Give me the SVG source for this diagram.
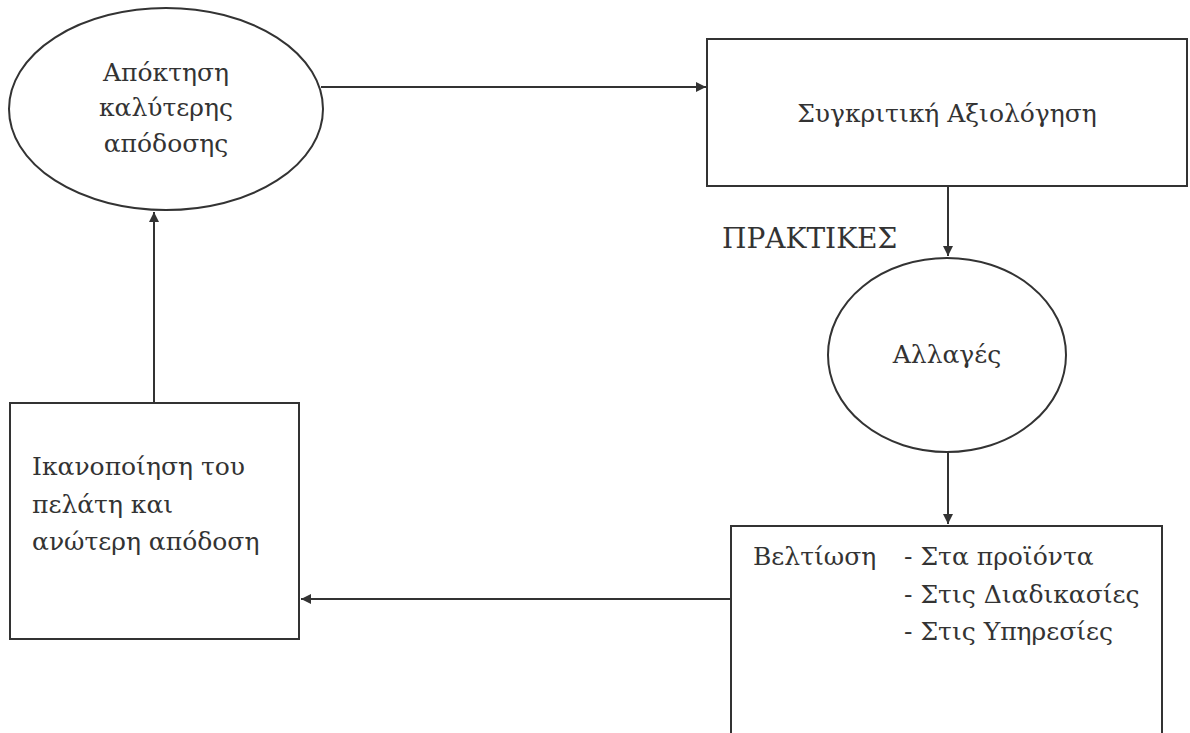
<svg xmlns="http://www.w3.org/2000/svg" width="1190" height="733" viewBox="0 0 1190 733">
<style>
.shape{fill:none;stroke:#333;stroke-width:2}
.line{fill:none;stroke:#333;stroke-width:2}
text{font-family:"DejaVu Serif",serif;font-size:25px;fill:#333}
.caps{font-size:28px}
</style>
<defs>
<marker id="ah" viewBox="0 0 10 10" refX="10" refY="5" markerWidth="5" markerHeight="5" markerUnits="strokeWidth" orient="auto">
<path d="M0,0 L10,5 L0,10 z" fill="#333"/>
</marker>
</defs>
<rect width="1190" height="733" fill="#fff"/>
<g id="connectors">
<line class="line" x1="321" y1="87" x2="706" y2="87" marker-end="url(#ah)"/>
<line class="line" x1="948" y1="186" x2="948" y2="256" marker-end="url(#ah)"/>
<line class="line" x1="948" y1="452" x2="948" y2="524" marker-end="url(#ah)"/>
<line class="line" x1="731" y1="599" x2="301" y2="599" marker-end="url(#ah)"/>
<line class="line" x1="154" y1="403" x2="154" y2="212" marker-end="url(#ah)"/>
</g>
<g id="node-apoktisi">
<ellipse class="shape" cx="166" cy="109" rx="157" ry="101"/>
<text x="166" y="81" text-anchor="middle">Απόκτηση</text>
<text x="166" y="116" text-anchor="middle">καλύτερης</text>
<text x="166" y="152" text-anchor="middle">απόδοσης</text>
</g>
<g id="node-sygkritiki">
<rect class="shape" x="707" y="39" width="480" height="147"/>
<text x="947" y="122" text-anchor="middle">Συγκριτική Αξιολόγηση</text>
</g>
<g id="label-praktikes">
<text class="caps" x="722" y="248">ΠΡΑΚΤΙΚΕΣ</text>
</g>
<g id="node-allages">
<ellipse class="shape" cx="947" cy="355" rx="119" ry="97"/>
<text x="947" y="363" text-anchor="middle">Αλλαγές</text>
</g>
<g id="node-veltiosi">
<rect class="shape" x="731" y="526" width="431" height="220"/>
<text x="753" y="565">Βελτίωση</text>
<text x="904" y="565">- Στα προϊόντα</text>
<text x="904" y="603">- Στις Διαδικασίες</text>
<text x="904" y="640">- Στις Υπηρεσίες</text>
</g>
<g id="node-ikanopoiisi">
<rect class="shape" x="10" y="403" width="289" height="236"/>
<text x="32" y="475">Ικανοποίηση του</text>
<text x="32" y="513">πελάτη και</text>
<text x="32" y="550">ανώτερη απόδοση</text>
</g>
</svg>
